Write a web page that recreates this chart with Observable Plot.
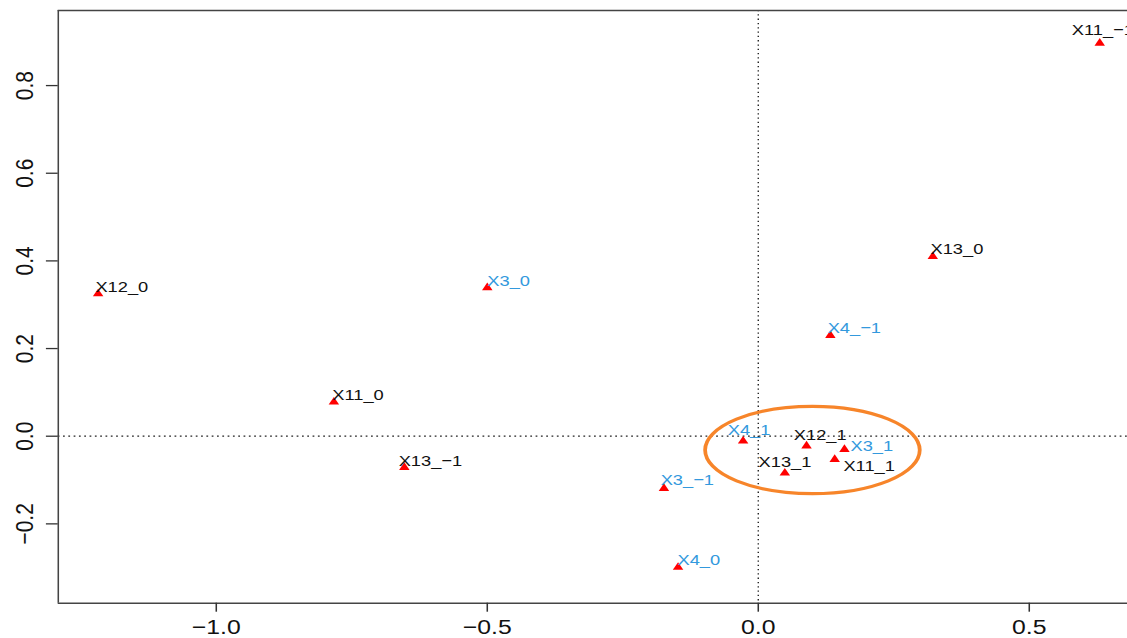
<!DOCTYPE html>
<html>
<head>
<meta charset="utf-8">
<script src="https://cdn.jsdelivr.net/npm/d3@7"></script>
<script src="https://cdn.jsdelivr.net/npm/@observablehq/plot@0.6"></script>
<style>
  html, body { margin: 0; padding: 0; background: #fff; overflow: hidden; }
  #chart svg { display: block; }
</style>
</head>
<body>
<div id="chart"></div>
<script>
// ---------- data ----------
const categories = ["X12_0", "X3_0", "X11_0", "X13_\u22121", "X3_\u22121", "X4_0", "X4_1",
                    "X12_1", "X3_1", "X11_1", "X13_1", "X4_\u22121", "X13_0", "X11_\u22121"];
const variables  = ["X12", "X3", "X11", "X13", "X3", "X4", "X4",
                    "X12", "X3", "X11", "X13", "X4", "X13", "X11"];
const dim1 = [-1.218, -0.500, -0.783, -0.653, -0.174, -0.148, -0.028,
               0.089,  0.159,  0.141,  0.049,  0.133,  0.322,  0.630];
const dim2 = [ 0.325,  0.339,  0.078, -0.071, -0.119, -0.299, -0.011,
              -0.022, -0.030, -0.053, -0.084,  0.230,  0.410,  0.897];
const xTicks = [-1.0, -0.5, 0.0, 0.5];
const yTicks = [-0.2, 0.0, 0.2, 0.4, 0.6, 0.8];

// ---------- layout (not data) ----------
const STRETCH = 1.18;              // reference is horizontally stretched
const W = 1127, H = 638;
const innerW = W / STRETCH;
const xDomain = [-1.2915, 0.6814];
const yDomain = [-0.381, 0.9713];
// label offsets in final pixels relative to the point (left edge, vertical middle)
const labelDx = [-2.7, 0, -1.6, -5.7, -3.3, -0.6, -15.4, -12.7, 6, 8.7, -26.3, -2.7, -2.3, -28];
const labelDy = [-6.6, -7, -6.7, -6.7, -8.7, -7.4, -10.7, -11.3, -3.7, 6.6, -11, -7.7, -7.7, -12.7];
// highlight ellipse (annotation)
const ell = {cx: 0.101, cy: -0.0326, rx: 0.198, ry: 0.0997};

const blue = "#3399dd", black = "#111111";
const rows = categories.map((c, i) => ({label: c, variable: variables[i], x: dim1[i], y: dim2[i], i}));
const fmt = d3.format(".1f");
const font = "'Liberation Sans', Arial, Helvetica, sans-serif";

const labelMarks = rows.map(d => Plot.text([d], {
  x: "x", y: "y", text: "label",
  fill: (["X3", "X4"].includes(d.variable)) ? blue : black,
  textAnchor: "start", lineAnchor: "middle",
  dx: labelDx[d.i] / STRETCH, dy: labelDy[d.i],
  fontSize: 15.5
}));

const ellipseMark = (index, {x, y}) => {
  const e = document.createElementNS("http://www.w3.org/2000/svg", "ellipse");
  e.setAttribute("cx", x(ell.cx));
  e.setAttribute("cy", y(ell.cy));
  e.setAttribute("rx", Math.abs(x(ell.cx + ell.rx) - x(ell.cx)));
  e.setAttribute("ry", Math.abs(y(ell.cy + ell.ry) - y(ell.cy)));
  e.setAttribute("fill", "none");
  e.setAttribute("stroke", "#f7852a");
  e.setAttribute("stroke-width", 3.2);
  return e;
};

const plot = Plot.plot({
  width: innerW,
  height: H,
  marginLeft: 57.7 / STRETCH,
  marginRight: 0,
  marginTop: 10,
  marginBottom: H - 602.7,
  x: {domain: xDomain},
  y: {domain: yDomain},
  style: {fontFamily: font, background: "#fff", color: "#111"},
  marks: [
    Plot.ruleX([0], {stroke: "#222", strokeDasharray: "1.3,3", strokeWidth: 1.2}),
    Plot.ruleY([0], {stroke: "#222", strokeDasharray: "1.5,3", strokeWidth: 1.2}),
    Plot.ruleX([xDomain[0]], {stroke: "#444", strokeWidth: 1.3}),
    Plot.ruleY(yDomain, {stroke: "#444", strokeWidth: 1.6}),
    Plot.axisX(xTicks, {tickSize: 9, tickPadding: 7, tickFormat: fmt, fontSize: 21, label: null, stroke: "#333", strokeWidth: 1.3}),
    Plot.axisY(yTicks, {tickSize: 10, tickFormat: () => "", label: null, stroke: "#333", strokeWidth: 1.3}),
    Plot.text(yTicks, {y: d => d, text: d => fmt(d), frameAnchor: "left", dx: -21.5,
      rotate: -90, textAnchor: "middle", lineAnchor: "bottom", fontSize: 21, fill: "#111"}),
    ellipseMark,
    Plot.dot(rows, {x: "x", y: "y", symbol: "triangle", r: 3.3, fill: "#ff0000", stroke: "none"}),
    ...labelMarks
  ]
});

plot.setAttribute("preserveAspectRatio", "none");
plot.style.width = W + "px";
plot.style.height = H + "px";
plot.style.maxWidth = "none";
document.getElementById("chart").appendChild(plot);
</script>
</body>
</html>
